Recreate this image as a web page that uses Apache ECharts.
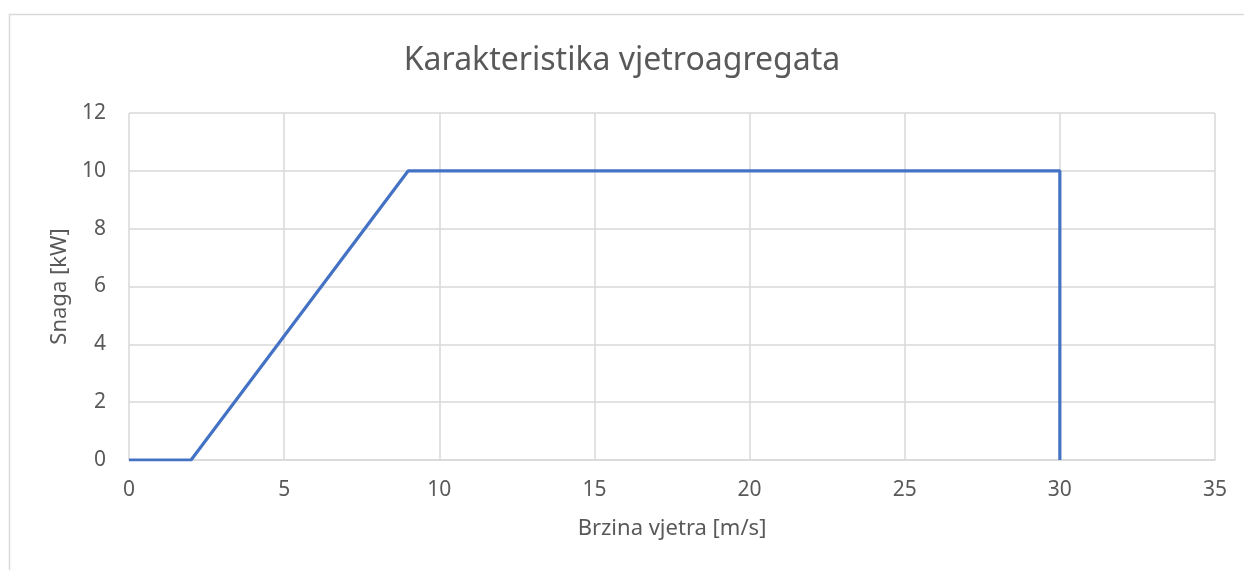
<!DOCTYPE html>
<html><head><meta charset="utf-8">
<script src="https://cdn.jsdelivr.net/npm/echarts@6/dist/echarts.min.js"></script>
<style>html,body{margin:0;padding:0;background:#fff}#c{width:1244px;height:570px}</style>
</head><body><div id="c"></div>
<script>
const titleText = 'Karakteristika vjetroagregata';
const xName = 'Brzina vjetra [m/s]';
const yName = 'Snaga [kW]';
const windSpeed = [0, 2, 9, 30, 30];
const power = [0, 0, 10, 10, 0];

const font = '"Noto Sans", "Open Sans", sans-serif';
const txt = '#595959';
const grid = '#d9d9d9';

const chart = echarts.init(document.getElementById('c'));
chart.setOption({
  animation: false,
  backgroundColor: '#fff',
  textStyle: { fontFamily: font },
  graphic: [{
    type: 'rect', silent: true,
    shape: { x: 9.5, y: 14.5, width: 1240, height: 600 },
    style: { fill: 'none', stroke: '#d9d9d9', lineWidth: 1.5 }
  }],
  title: {
    text: titleText, left: 'center', top: 40,
    textStyle: { fontFamily: font, fontSize: 32, fontWeight: 'normal', color: txt }
  },
  grid: { left: 129, right: 29, top: 113, bottom: 110 },
  xAxis: {
    type: 'value', min: 0, max: 35, interval: 5,
    name: xName, nameLocation: 'middle', nameGap: 58,
    nameTextStyle: { fontFamily: font, fontSize: 22, color: txt },
    axisLine: { show: true, lineStyle: { color: grid, width: 1.5 } },
    axisTick: { show: false },
    axisLabel: { fontFamily: font, fontSize: 21, color: txt, margin: 20 },
    splitLine: { show: true, lineStyle: { color: grid, width: 1.5 } }
  },
  yAxis: {
    type: 'value', min: 0, max: 12, interval: 2,
    name: yName, nameLocation: 'middle', nameGap: 56, nameRotate: 90,
    nameTextStyle: { fontFamily: font, fontSize: 22, color: txt },
    axisLine: { show: false },
    axisTick: { show: false },
    axisLabel: { fontFamily: font, fontSize: 21, color: txt, margin: 23 },
    splitLine: { show: true, lineStyle: { color: grid, width: 1.5 } }
  },
  series: [{
    type: 'line',
    data: windSpeed.map((x, i) => [x, power[i]]),
    showSymbol: false, symbol: 'none',
    lineStyle: { color: '#4472C4', width: 3.2 },
    itemStyle: { color: '#4472C4' }
  }]
});
</script></body></html>
